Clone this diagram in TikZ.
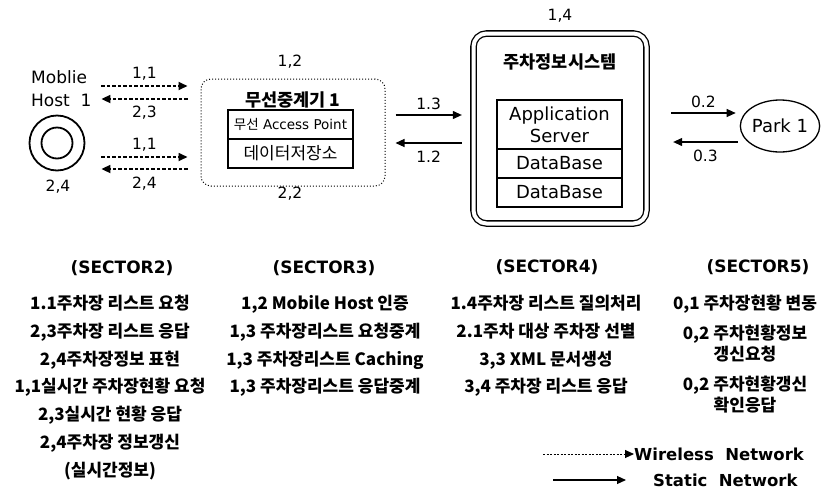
\documentclass[tikz,border=0pt]{standalone}
\usepackage{fontspec}
\setmainfont{DejaVu Sans}
\newfontfamily\kr{Noto Sans CJK KR}
\usetikzlibrary{positioning, arrows.meta, shapes.geometric}
\tikzset{
  lbl/.style={font=\fontsize{15.5}{18}\selectfont, inner sep=1pt},
  ttl/.style={font=\kr\bfseries\fontsize{17.5}{20}\selectfont, inner sep=1pt},
  cell/.style={
    rectangle, draw, line width=1.6pt, outer sep=0pt,
    minimum width=125pt, inner sep=0pt,
    align=center, font=\fontsize{18}{22}\selectfont
  },
  warr/.style={-{Triangle[length=9pt, width=8pt]}, line width=1.7pt,
    dash pattern=on 3.5pt off 2pt},
  sarr/.style={-{Triangle[length=9pt, width=8pt]}, line width=1.1pt},
  hdr/.style={font=\bfseries\fontsize{17}{20}\selectfont, inner sep=0pt},
  item/.style={font=\kr\bfseries\fontsize{17}{27.8}\selectfont,
    align=center, anchor=north, inner sep=0pt},
}

\begin{document}
\begin{tikzpicture}[x=1pt, y=-1pt]
  \useasboundingbox (0,0) rectangle (824,493);

  %% ── Mobile host ────────────────────────────────────────────────────────────

  \node[lbl, align=left, anchor=west, font=\fontsize{17}{23}\selectfont]
    (hostname) at (30,89) {Moblie\\Host\ \ 1};
  \node[circle, draw, line width=1.8pt, minimum size=55pt, inner sep=0pt]
    (host) at (57,143) {};
  \node[circle, draw, line width=1.8pt, minimum size=31pt, inner sep=0pt]
    (hostin) at (host) {};
  \node[lbl] (hostno) at (58,187) {2,4};

  %% ── Wireless relay ─────────────────────────────────────────────────────────

  \node[draw, dotted, line width=1pt, rounded corners=10pt,
    minimum width=184pt, minimum height=107pt] (relay) at (293,132.5) {};
  \node[lbl] (relaytop) at (290,62) {1,2};
  \node[lbl] (relaybot) at (290,194) {2,2};
  \node[ttl] (relayname) at (293,100) {무선중계기 1};

  \node[cell, minimum height=29pt, font=\fontsize{13.5}{16}\selectfont]
    (ap) at (290.5,124.5) {{\kr 무선} Access Point};
  \node[cell, minimum height=29pt, below=0pt of ap,
    font=\kr\fontsize{17}{20}\selectfont] (store) {데이터저장소};

  % wireless links host <-> relay
  \draw[warr] ([xshift=16pt]host.east |- 0,86) -- ([xshift=-13pt]relay.west |- 0,86)
    node[lbl, midway, above=4pt] {1,1};
  \draw[warr] ([xshift=-13pt]relay.west |- 0,99) -- ([xshift=16pt]host.east |- 0,99)
    node[lbl, midway, below=5pt] {2,3};
  \draw[warr] ([xshift=16pt]host.east |- 0,157) -- ([xshift=-13pt]relay.west |- 0,157)
    node[lbl, midway, above=4pt] {1,1};
  \draw[warr] ([xshift=-13pt]relay.west |- 0,169) -- ([xshift=16pt]host.east |- 0,169)
    node[lbl, midway, below=6pt] {2,4};

  %% ── Parking information system ─────────────────────────────────────────────

  \node[draw, double, double distance=4pt, line width=1.3pt, rounded corners=13pt,
    minimum width=173pt, minimum height=190pt] (pis) at (560,128.5) {};
  \node[lbl] (pistop) at (560,16) {1,4};
  \node[ttl] (pisname) at (560,62) {주차정보시스템};

  \node[cell, minimum height=49pt] (app) at (559.5,124.5) {Application\\Server};
  \node[cell, minimum height=29pt, below=0pt of app] (db1) {DataBase};
  \node[cell, minimum height=29pt, below=0pt of db1] (db2) {DataBase};

  \draw[sarr] ([xshift=10pt]relay.east |- 0,115) -- ([xshift=-11pt]pis.west |- 0,115)
    node[lbl, midway, above=4pt] {1.3};
  \draw[sarr] ([xshift=-11pt]pis.west |- 0,143) -- ([xshift=10pt]relay.east |- 0,143)
    node[lbl, midway, below=6pt] {1.2};

  %% ── Parking lot ────────────────────────────────────────────────────────────

  \node[ellipse, draw, line width=1.3pt, minimum width=76pt, minimum height=52pt,
    inner sep=0pt, font=\fontsize{18}{20}\selectfont] (park) at (780,126) {Park 1};

  \draw[sarr] ([xshift=24pt]pis.east |- 0,113) -- ([xshift=-4pt]park.west |- 0,113)
    node[lbl, midway, above=4pt] {0.2};
  \draw[sarr] ([xshift=-2pt]park.west |- 0,142) -- ([xshift=26pt]pis.east |- 0,142)
    node[lbl, midway, below=6pt] {0.3};

  %% ── Sector lists ───────────────────────────────────────────────────────────

  \node[hdr] (sec2) at (122,268) {(SECTOR2)};
  \node[item] (list2) at (110,295) {1.1주차장 리스트 요청\\2,3주차장 리스트 응답\\
    2,4주차장정보 표현\\1,1실시간 주차장현황 요청\\2,3실시간 현황 응답\\
    2,4주차장 정보갱신\\(실시간정보)};

  \node[hdr] (sec3) at (324,268) {(SECTOR3)};
  \node[item] (list3) at (325,295) {1,2 Mobile Host 인증\\1,3 주차장리스트 요청중계\\
    1,3 주차장리스트 Caching\\1,3 주차장리스트 응답중계};

  \node[hdr] (sec4) at (547,267) {(SECTOR4)};
  \node[item] (list4) at (546,295) {1.4주차장 리스트 질의처리\\2.1주차 대상 주차장 선별\\
    3,3 XML 문서생성\\3,4 주차장 리스트 응답};

  \node[hdr] (sec5) at (758,267) {(SECTOR5)};
  \node[item, font=\kr\bfseries\fontsize{17}{21}\selectfont] (list5) at (745,295)
    {0,1 주차장현황 변동\\[9pt]0,2 주차현황정보\\갱신요청\\[9pt]0,2 주차현황갱신\\확인응답};

  %% ── Legend ─────────────────────────────────────────────────────────────────

  \node[hdr, font=\bfseries\fontsize{16.5}{20}\selectfont, anchor=west]
    (wlnet) at (634,454) {Wireless\ \ Network};
  \node[hdr, font=\bfseries\fontsize{16.5}{20}\selectfont, anchor=west]
    (stnet) at (653,480) {Static\ \ Network};
  \coordinate (wlstart) at (543,454);
  \coordinate (ststart) at (553,480);
  \draw[-{Triangle[length=9pt, width=8pt]}, line width=1pt, dash pattern=on 2pt off 1.5pt]
    (wlstart) -- (wlnet.west);
  \draw[sarr] (ststart) -- ([xshift=-27pt]stnet.west);

\end{tikzpicture}
\end{document}
